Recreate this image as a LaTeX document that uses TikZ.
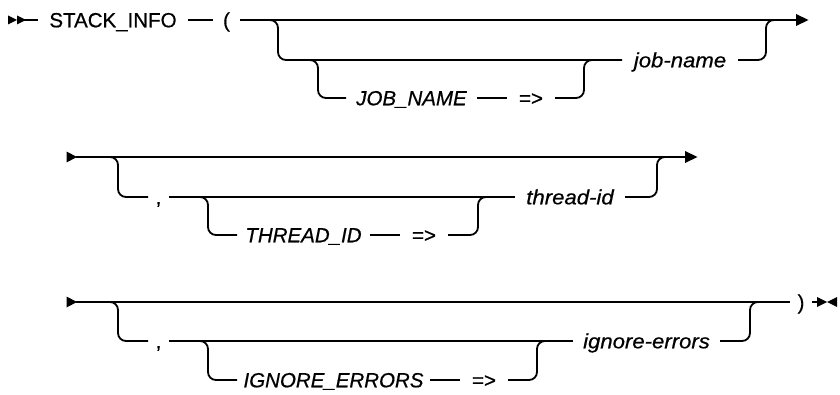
\documentclass[tikz,border=0pt]{standalone}
\usepackage{fontspec}
\setmainfont{Liberation Sans}[FakeBold=0.6]
\newfontfamily\basefont[FakeBold=0.6]{Liberation Sans}
\newfontfamily\widefont[FakeStretch=1.08,FakeBold=0.6]{Liberation Sans}
\begin{document}
\begin{tikzpicture}[x=1pt,y=-1pt,
  rail/.style={line width=1.8pt, rounded corners=8pt, line cap=butt},
  tipfill/.style={fill=black, draw=none},
  txt/.style={inner sep=0pt, outer sep=0pt, anchor=center, text height=14.6pt, text depth=0pt, minimum height=0pt, font=\fontsize{20.5}{24}\selectfont\basefont},
  kw/.style={txt, font=\fontsize{20.5}{24}\selectfont\basefont\itshape},
  var/.style={txt, font=\fontsize{20.5}{24}\selectfont\widefont\itshape}]
\useasboundingbox (0,0) rectangle (840,395);

% ---------- Row 1 ----------
\fill[tipfill] (8,15.5) -- (17,20) -- (8,24.5) -- cycle;
\fill[tipfill] (17,15.5) -- (26,20) -- (17,24.5) -- cycle;
\coordinate (s1) at (20,20);
\node[txt, minimum width=150pt] (stack) at (113,20) {STACK\_INFO};
\node[txt, minimum width=27pt] (lpar) at (226.5,20) {(};
\node[kw, minimum width=131pt] (jobkw) at (411.5,98) {JOB\_NAME};
\node[txt, minimum width=48pt] (eq1) at (531,98) {=>};
\node[var, minimum width=116pt] (jobname) at (680,60) {job-name};
\coordinate (e1) at (797,20);
\coordinate (b1) at (262,20);
\coordinate (v1) at (278,60);
\coordinate (b1s) at (305,60);
\coordinate (v1s) at (318,98);
\coordinate (m1s) at (584,60);
\coordinate (m1se) at (600,60);
\coordinate (m1) at (766,20);
\coordinate (m1e) at (780,20);

\draw[rail] (s1) -- (stack.west);
\draw[rail] (stack.east) -- (lpar.west);
\draw[rail] (lpar.east) -- (e1);
\fill[tipfill] (796,14) -- (808.5,20) -- (796,26) -- cycle;
\draw[rail] (b1) -| (v1) -- (jobname.west);
\draw[rail] (b1s) -| (v1s) -- (jobkw.west);
\draw[rail] (jobkw.east) -- (eq1.west);
\draw[rail] (eq1.east) -| (m1s) -- (m1se);
\draw[rail] (jobname.east) -| (m1) -- (m1e);

% ---------- Row 2 ----------
\fill[tipfill] (66.5,151.5) -- (77,157) -- (66.5,162.5) -- cycle;
\coordinate (s2) at (76,157);
\coordinate (e2) at (686,157);
\node[txt, minimum width=21pt] (comma2) at (158.5,197) {,};
\node[kw, minimum width=133pt] (threadkw) at (303.5,235) {THREAD\_ID};
\node[txt, minimum width=48pt] (eq2) at (424,235) {=>};
\node[var, minimum width=110pt] (threadid) at (570,197) {thread-id};
\coordinate (b2) at (100,157);
\coordinate (v2) at (118,197);
\coordinate (b2s) at (195,197);
\coordinate (v2s) at (208,235);
\coordinate (m2s) at (478,197);
\coordinate (m2se) at (490,197);
\coordinate (m2) at (657,157);
\coordinate (m2e) at (670,157);

\draw[rail] (s2) -- (e2);
\fill[tipfill] (685,151) -- (697.5,157) -- (685,163) -- cycle;
\draw[rail] (b2) -| (v2) -- (comma2.west);
\draw[rail] (comma2.east) -- (threadid.west);
\draw[rail] (b2s) -| (v2s) -- (threadkw.west);
\draw[rail] (threadkw.east) -- (eq2.west);
\draw[rail] (eq2.east) -| (m2s) -- (m2se);
\draw[rail] (threadid.east) -| (m2) -- (m2e);

% ---------- Row 3 ----------
\fill[tipfill] (66.5,296.5) -- (77,302) -- (66.5,307.5) -- cycle;
\coordinate (s3) at (76,302);
\node[txt, minimum width=22pt] (rpar) at (801,302) {)};
\node[txt, minimum width=21pt] (comma3) at (158.5,341) {,};
\node[kw, minimum width=193pt] (ignkw) at (333.5,380) {IGNORE\_ERRORS};
\node[txt, minimum width=48pt] (eq3) at (484,380) {=>};
\node[var, minimum width=147pt] (ignerr) at (646.5,341) {ignore-errors};
\coordinate (b3) at (100,302);
\coordinate (v3) at (118,341);
\coordinate (b3s) at (195,341);
\coordinate (v3s) at (208,380);
\coordinate (m3s) at (537,341);
\coordinate (m3se) at (550,341);
\coordinate (m3) at (750,302);
\coordinate (m3e) at (765,302);
\coordinate (e3) at (818,302);

\draw[rail] (s3) -- (rpar.west);
\draw[rail] (rpar.east) -- (e3);
\fill[tipfill] (817,297) -- (827,302) -- (817,307) -- cycle;
\fill[tipfill] (837,297) -- (827,302) -- (837,307) -- cycle;
\draw[rail] (b3) -| (v3) -- (comma3.west);
\draw[rail] (comma3.east) -- (ignerr.west);
\draw[rail] (b3s) -| (v3s) -- (ignkw.west);
\draw[rail] (ignkw.east) -- (eq3.west);
\draw[rail] (eq3.east) -| (m3s) -- (m3se);
\draw[rail] (ignerr.east) -| (m3) -- (m3e);
\end{tikzpicture}
\end{document}
